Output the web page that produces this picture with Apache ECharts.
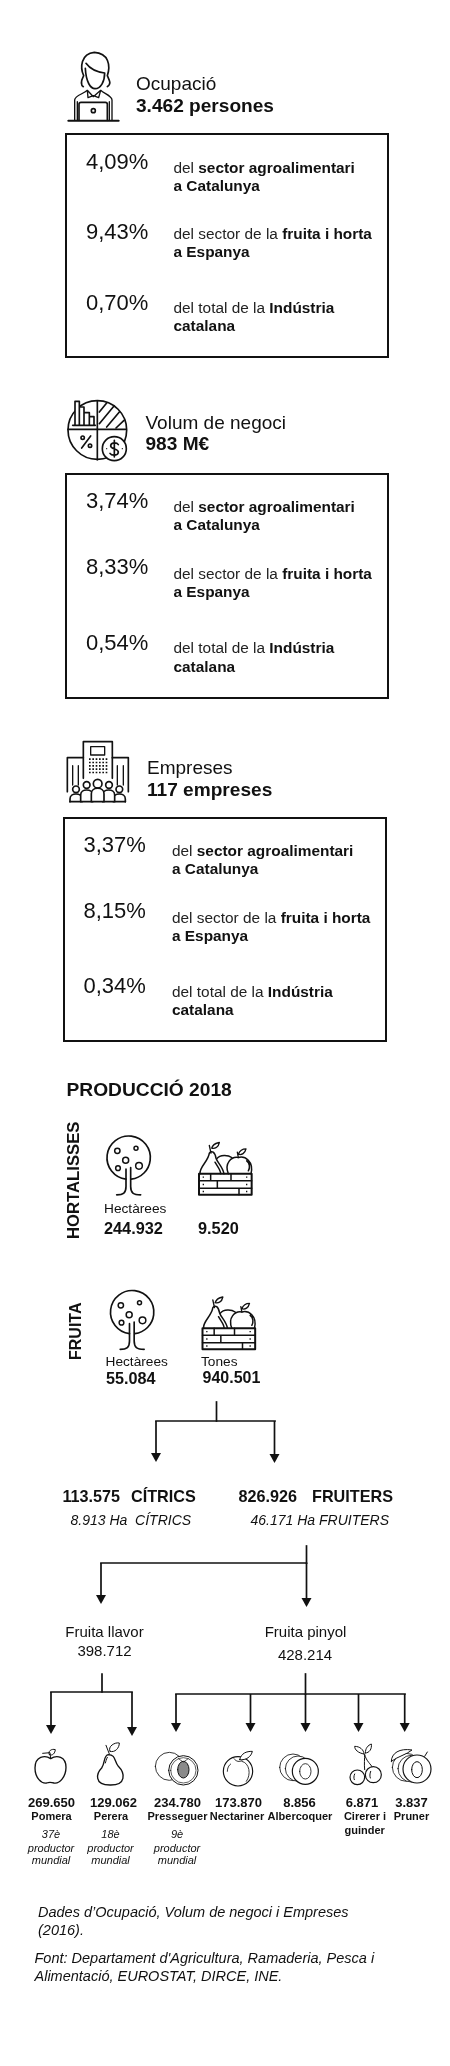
<!DOCTYPE html>
<html>
<head>
<meta charset="utf-8">
<style>html,body{margin:0;padding:0;background:#fff}#chart{width:450px;height:2066px}</style>
<script src="https://cdn.jsdelivr.net/npm/echarts@6/dist/echarts.min.js"></script>
</head>
<body>
<div id="chart"></div>
<script>
// ---- values ----
const sectionTitles = ['Ocupació', 'Volum de negoci', 'Empreses'];
const sectionTotals = ['3.462 persones', '983 M€', '117 empreses'];
const sharesOcupacio = ['4,09%', '9,43%', '0,70%'];
const sharesNegoci = ['3,74%', '8,33%', '0,54%'];
const sharesEmpreses = ['3,37%', '8,15%', '0,34%'];
const shareDescriptions = [
  ['{r|del }{b|sector agroalimentari}', '{b|a Catalunya}'],
  ['{r|del sector de la }{b|fruita i horta}', '{b|a Espanya}'],
  ['{r|del total de la }{b|Indústria}', '{b|catalana}']
];
const productionTitle = 'PRODUCCIÓ 2018';
const hortaHectares = '244.932';
const hortaTones = '9.520';
const fruitHectares = '55.084';
const fruitTones = '940.501';
const fruitValues = ['269.650', '129.062', '234.780', '173.870', '8.856', '6.871', '3.837'];
const fruitNames = ['Pomera', 'Perera', 'Presseguer', 'Nectariner', 'Albercoquer', 'Cirerer i', 'Pruner'];
const fruitRanks = ['37è', '18è', '9è'];

// ---- layout (page pixels on the hidden axes) ----
const INK = '#111';
const sectionLayout = [
  {tx:136, t1:90, t2:112, box:[66,134,388,357], px:86, pb:[170,240,311], dx:173.5, db:[[173,191],[239,257],[313,331]]},
  {tx:145.5, t1:429, t2:450, box:[66,474,388,698], px:86, pb:[509,575,651], dx:173.5, db:[[512,530],[579,597],[653,672]]},
  {tx:147, t1:774, t2:796, box:[64,818,386,1041], px:83.5, pb:[853,919,994], dx:172, db:[[856,874],[923,941],[997,1015]]}
];
const fruitCenters = [51.5, 113.5, 177.5, 238.5, 299.5, 362, 411.5];
const nameCenters = [51.5, 111, 177.5, 237, 300, 365, 411.5];
const rankCenters = [51, 110.5, 177];

const texts = [];
function T(x, base, text, size, opt) { texts.push(Object.assign({x, base, text, size}, opt || {})); }
const shareLists = [sharesOcupacio, sharesNegoci, sharesEmpreses];
sectionLayout.forEach((s, i) => {
  T(s.tx, s.t1, sectionTitles[i], 19);
  T(s.tx, s.t2, sectionTotals[i], 19.1, {bold:true});
  shareLists[i].forEach((v, k) => {
    T(s.px, s.pb[k], v, 22);
    shareDescriptions[k].forEach((line, l) => T(s.dx, s.db[k][l], line, 15.4, {rich:true}));
  });
});
T(66.5, 1096, productionTitle, 19.2, {bold:true});
T(79.5, 1239, 'HORTALISSES', 16.7, {bold:true, rot:true});
T(81.5, 1360, 'FRUITA', 16, {bold:true, rot:true});
T(104, 1213, 'Hectàrees', 13.7);
T(104, 1234, hortaHectares, 16.3, {bold:true});
T(198, 1234, hortaTones, 16.3, {bold:true});
T(105.5, 1366, 'Hectàrees', 13.7);
T(201, 1366, 'Tones', 13.7);
T(106, 1384, fruitHectares, 16.2, {bold:true});
T(202.5, 1383, fruitTones, 16, {bold:true});
T(62.5, 1502, '113.575', 16.2, {bold:true});
T(131, 1502, 'CÍTRICS', 16.2, {bold:true});
T(238.5, 1502, '826.926', 16.2, {bold:true});
T(312, 1502, 'FRUITERS', 16.2, {bold:true});
T(70.5, 1525, '8.913 Ha  CÍTRICS', 14, {italic:true});
T(250.5, 1525, '46.171 Ha FRUITERS', 14, {italic:true});
T(104.5, 1637, 'Fruita llavor', 15, {center:true});
T(104.5, 1656, '398.712', 15, {center:true});
T(305.5, 1637, 'Fruita pinyol', 15, {center:true});
T(305, 1660, '428.214', 15, {center:true});
fruitValues.forEach((v, i) => T(fruitCenters[i], 1807, v, 13, {bold:true, center:true}));
fruitNames.forEach((v, i) => T(nameCenters[i], 1820, v, 11, {bold:true, center:true}));
T(344.5, 1834, 'guinder', 11, {bold:true});
fruitRanks.forEach((v, i) => {
  T(rankCenters[i], 1838, v, 11, {italic:true, center:true});
  T(rankCenters[i], 1852, 'productor', 11, {italic:true, center:true});
  T(rankCenters[i], 1864, 'mundial', 11, {italic:true, center:true});
});
T(38, 1917, 'Dades d’Ocupació, Volum de negoci i Empreses', 14.5, {italic:true});
T(38, 1935, '(2016).', 14.5, {italic:true});
T(34.5, 1963, 'Font: Departament d\'Agricultura, Ramaderia, Pesca i', 14.5, {italic:true});
T(34.5, 1981, 'Alimentació, EUROSTAT, DIRCE, INE.', 14.5, {italic:true});

// Connector stems [x1,y1,x2,y2] and arrows [x,y1,y2]
const stems = [
  [216.5,1402,216.5,1421],[156,1421,275,1421],
  [306.5,1546,306.5,1563],[101,1563,306.5,1563],
  [102,1674,102,1692],[51,1692,132,1692],
  [305.5,1674,305.5,1694],[176,1694,405,1694]
];
const arrows = [
  [156,1421,1462],[274.5,1421,1463],
  [101,1563,1604],[306.5,1563,1607],
  [51,1692,1734],[132,1692,1736],
  [176,1694,1732],[250.5,1694,1732],[305.5,1694,1732],[358.5,1694,1732],[404.7,1694,1732]
];

// ---- icons: paths in 3x crop units, placed at an origin and scaled by 1/3 ----
function grid(x0, y0, dx, dy, nx, ny, s) {
  let p = '';
  for (let i = 0; i < nx; i++) for (let j = 0; j < ny; j++) {
    const x = x0 + i * dx, y = y0 + j * dy;
    p += `M${x} ${y}h${s}v${s}h${-s}Z`;
  }
  return p;
}
const circleP = (cx, cy, r) => `M${cx-r} ${cy}A${r} ${r} 0 1 1 ${cx+r} ${cy}A${r} ${r} 0 1 1 ${cx-r} ${cy}Z`;
const ellipseP = (cx, cy, rx, ry) => `M${cx-rx} ${cy}A${rx} ${ry} 0 1 1 ${cx+rx} ${cy}A${rx} ${ry} 0 1 1 ${cx-rx} ${cy}Z`;
const icons = {
  person: [
    {d:'M70 125C58 118 66 102 71 92C60 68 62 26 103 22C146 24 152 62 142 92C147 104 156 116 142 125M76 70C78 112 92 131 105 131C122 131 134 110 134 84C116 82 92 74 78 55', w:5},
    {d:'M44 226V165C44 152 72 146 82 136L100 155L122 136C132 146 156 152 156 165V226M52 226V170M148 226V170M82 136L84 158L100 152L116 158L122 136', w:4},
    {d:'M57 226V178Q57 172 63 172H136Q142 172 142 178V226', w:5},
    {d:circleP(100,197,6), w:5},
    {d:'M25 227H176', w:6}
  ],
  business: [
    {d:circleP(112,114,88), w:5},
    {d:'M112 27V203M24 112H197', w:5},
    {d:'M45 100V28H58V100M58 45H72V100M72 62H88V100M88 74H102V100M38 100H106', fillW:true, w:5},
    {d:'M118 60L140 33M118 95L162 42M140 105L178 60M168 108L192 85', w:5},
    {d:'M92 132L65 168', w:5},
    {d:circleP(68,137,5), w:5},
    {d:circleP(90,161,5), w:5},
    {d:circleP(163,170,36), fillW:true, w:5},
    {d:'M175 158C170 150 152 150 152 162C152 172 175 170 175 180C175 192 155 192 150 184M163 145V195', w:5},
    {d:circleP(140,170,2)+circleP(187,170,2), fill:true}
  ],
  buildings: [
    {d:'M70 130V20H157V130', w:5},
    {d:'M92 35H134V60H92Z', w:4},
    {d:grid(87,70,10,10,6,5,5), fill:true},
    {d:'M70 68H22V170M157 68H205V170', w:5},
    {d:'M38 92V150M55 92V150M172 92V150M190 92V150', w:4},
    {d:circleP(113,146,13)+circleP(80,150,10)+circleP(147,150,10)+circleP(48,163,10)+circleP(178,163,10), fillW:true, w:5},
    {d:'M30 200V192C30 172 66 172 66 192V200', fillW:true, w:5},
    {d:'M160 200V192C160 172 196 172 196 192V200', fillW:true, w:5},
    {d:'M62 200V180C62 160 98 160 98 180V200', fillW:true, w:5},
    {d:'M128 200V180C128 160 164 160 164 180V200', fillW:true, w:5},
    {d:'M94 200V176C94 154 132 154 132 176V200', fillW:true, w:5},
    {d:'M30 200H196', w:5}
  ],
  tree: [
    {d:'M78 143A65 65 0 1 1 94 143', w:5},
    {d:'M78 113V165C78 184 70 190 50 190M92 108V165C92 184 100 190 122 190', w:5},
    {d:circleP(52,58,8)+circleP(108,50,6)+circleP(77,86,9)+circleP(54,110,7)+circleP(117,103,10), w:4.5}
  ],
  crate: [
    {d:'M297 127H455V190H297Z', w:6},
    {d:'M297 148H455M297 170H455M332 127V148M393 127V148M352 148V170M417 170V190', w:4.5},
    {d:grid(308,135,0,0,1,1,4)+grid(438,135,0,0,1,1,4)+grid(308,157,0,0,1,1,4)+grid(438,157,0,0,1,1,4)+grid(308,178,0,0,1,1,4)+grid(438,178,0,0,1,1,4), fill:true},
    {d:'M300 127C298 105 325 90 328 65C335 55 345 62 348 80C353 95 368 105 372 127M345 92C352 105 362 115 362 127', w:4.5},
    {d:'M385 127C372 95 395 74 415 78C435 72 462 90 453 127M350 82C360 68 385 70 395 78M440 88C450 95 450 110 445 118', w:4.5},
    {d:'M333 65L328 42M335 50C340 35 350 35 358 33C355 48 345 52 335 50M415 78L412 62M415 68C420 55 430 52 438 52C435 65 425 72 415 68', w:4}
  ],
  apple: [
    {d:'M62 62C45 50 15 55 15 90C15 120 35 138 50 135C55 133 65 133 72 135C90 138 108 115 108 88C108 55 80 50 62 62Z', w:4},
    {d:'M62 62L60 44L38 46M58 50C52 40 65 31 76 35C75 45 68 55 58 50', w:3}
  ],
  pear: [
    {d:'M235 50C220 52 226 75 215 90C200 105 190 141 240 141C290 142 285 105 265 85C252 70 258 50 235 50Z', w:4},
    {d:'M238 48L228 22M240 40C232 25 255 12 268 15C268 30 255 45 240 40M232 58C228 65 228 70 226 75', w:3}
  ],
  peach: [
    {d:circleP(418,85,42), w:2.5},
    {d:circleP(460,97,44), fillW:true, w:3},
    {d:circleP(460,97,38), w:2},
    {d:ellipseP(460,95,17,25), greyFill:true, w:3},
    {d:'M445 62L460 72L475 62', w:2}
  ],
  nectarine: [
    {d:circleP(60,100,44), w:3.5},
    {d:'M28 100C28 90 32 82 38 78M72 70C95 75 100 110 85 130M48 62C55 72 65 72 72 68', w:2.5},
    {d:'M65 65C70 45 85 40 103 40C100 55 85 68 65 65', fillW:true, w:3}
  ],
  apricot: [
    {d:circleP(225,88,40), w:2.5},
    {d:circleP(240,92,38), fillW:true, w:2.5},
    {d:circleP(262,100,39), fillW:true, w:3.5},
    {d:ellipseP(262,100,17,23), w:2.5}
  ],
  cherry: [
    {d:circleP(418,118,22), w:3.5},
    {d:circleP(466,110,24), w:3.5},
    {d:'M440 95C438 80 440 60 440 50M440 50C445 70 460 80 462 86M438 48C420 45 410 35 410 25C425 25 438 35 438 48M442 45C442 30 450 22 460 18C462 32 455 45 442 45M410 108C407 115 407 120 409 125M458 100C455 108 455 115 457 120', w:3}
  ],
  plum: [
    {d:circleP(565,88,42), w:2.5},
    {d:circleP(580,92,40), fillW:true, w:2.5},
    {d:circleP(597,93,42), fillW:true, w:3.5},
    {d:ellipseP(597,95,16,24), w:3},
    {d:'M520 70C520 45 545 30 582 36C565 50 540 55 520 70ZM620 55L628 42', fillW:true, w:3}
  ]
};
const iconPlacements = [
  ['person',60,45],['business',60,392],['buildings',60,735],
  ['tree',100,1131.5],['crate',100,1131.5],['tree',103.5,1286],['crate',103.5,1286],
  ['apple',30,1738],['pear',30,1738],['peach',30,1738],
  ['nectarine',218,1738],['apricot',218,1738],['cherry',218,1738],['plum',218,1738]
];
const boxes = sectionLayout.map(s => s.box);

const chart = echarts.init(document.getElementById('chart'), null, {renderer:'canvas'});
const idx = a => a.map((_, i) => [i]);
const FONT = '"Liberation Sans", Helvetica, Arial, sans-serif';

function renderText(p, api) {
  const t = texts[p.dataIndex];
  const [x, y] = api.coord([t.x, t.base]);
  const size = t.size;
  const weight = t.bold ? 'bold ' : '';
  const ital = t.italic ? 'italic ' : '';
  const style = {
    text: t.text, fill: INK,
    font: `${ital}${weight}${size}px ${FONT}`,
    align: t.center ? 'center' : 'left', textAlign: t.center ? 'center' : 'left',
    verticalAlign: 'middle', textVerticalAlign: 'middle'
  };
  if (t.rich) {
    style.rich = {
      r: {fontFamily: FONT, fontSize: size, fill: '#222', fontWeight: 'normal'},
      b: {fontFamily: FONT, fontSize: size, fill: INK, fontWeight: 'bold'}
    };
  }
  if (t.rot) {
    return {type:'text', x: x - 0.3*size, y, rotation: Math.PI/2, style};
  }
  return {type:'text', x, y: y - 0.3*size, style};
}
function renderBox(p, api) {
  const b = boxes[p.dataIndex];
  const a = api.coord([b[0], b[1]]), c = api.coord([b[2], b[3]]);
  return {type:'rect', shape:{x:a[0], y:a[1], width:c[0]-a[0], height:c[1]-a[1]},
    style:{fill:'none', stroke:INK, lineWidth:2}};
}
function renderStem(p, api) {
  const s = stems[p.dataIndex];
  const a = api.coord([s[0], s[1]]), c = api.coord([s[2], s[3]]);
  return {type:'line', shape:{x1:a[0], y1:a[1], x2:c[0], y2:c[1]},
    style:{stroke:INK, lineWidth:1.7, lineCap:'square'}};
}
function renderArrow(p, api) {
  const s = arrows[p.dataIndex];
  const a = api.coord([s[0], s[1]]), c = api.coord([s[0], s[2]]);
  return {type:'group', children:[
    {type:'line', shape:{x1:a[0], y1:a[1], x2:c[0], y2:c[1]-6}, style:{stroke:INK, lineWidth:1.7}},
    {type:'polygon', shape:{points:[[c[0]-5,c[1]-9],[c[0]+5,c[1]-9],[c[0],c[1]]]}, style:{fill:INK}}
  ]};
}
function renderIcon(p, api) {
  const pl = iconPlacements[p.dataIndex];
  const o = api.coord([pl[1], pl[2]]);
  return {type:'group', x:o[0], y:o[1], scaleX:1/3, scaleY:1/3,
    children: icons[pl[0]].map(e => ({
      type:'path', shape:{pathData:e.d},
      style:{
        fill: e.fill ? INK : e.greyFill ? '#8a8a8a' : e.fillW ? '#fff' : 'none',
        stroke: e.fill ? 'none' : INK, lineWidth: e.w || 4.5, lineCap:'round', lineJoin:'round'
      }
    }))};
}
const custom = (name, list, fn) => ({type:'custom', name, coordinateSystem:'cartesian2d', renderItem:fn, data:idx(list), silent:true, animation:false, clip:false});

chart.setOption({
  animation:false,
  backgroundColor:'#fff',
  grid:{left:0, right:0, top:0, bottom:0},
  xAxis:{type:'value', min:0, max:450, show:false},
  yAxis:{type:'value', min:0, max:2066, inverse:true, show:false},
  series:[
    custom('caixes', boxes, renderBox),
    custom('icones', iconPlacements, renderIcon),
    custom('connectors', stems, renderStem),
    custom('fletxes', arrows, renderArrow),
    custom('textos', texts, renderText)
  ]
});
</script>
</body>
</html>
